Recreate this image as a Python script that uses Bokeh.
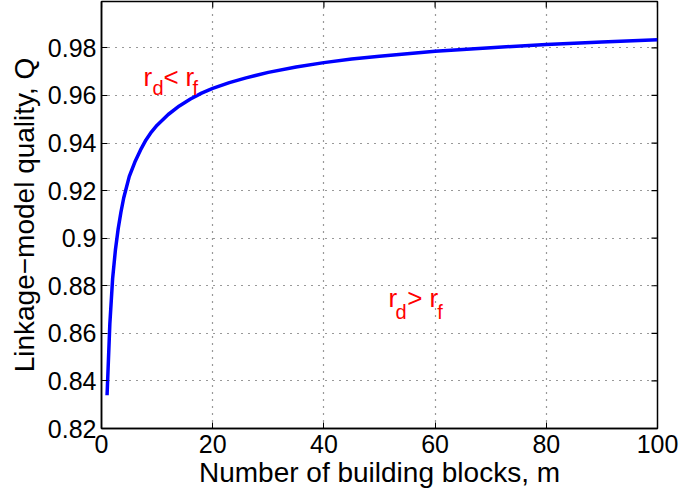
import math
from bokeh.plotting import figure
from bokeh.models import FixedTicker, Range1d, ColumnDataSource
from bokeh.core.properties import value
from bokeh.embed import file_html
from bokeh.resources import INLINE

# data
m_vals = [1, 1.5, 2, 2.5, 3, 3.5, 4, 5, 6, 7, 8, 9, 10, 12, 14, 16, 18, 20, 23, 26,
          30, 35, 40, 45, 50, 60, 70, 80, 90, 100]
q_vals = [0.834, 0.864, 0.883, 0.895, 0.904, 0.911, 0.917, 0.926, 0.932, 0.937, 0.9413,
          0.9447, 0.9475, 0.952, 0.9556, 0.9585, 0.961, 0.963, 0.9654, 0.9674, 0.9697,
          0.972, 0.9738, 0.9753, 0.9765, 0.9786, 0.9801, 0.9814, 0.9825, 0.9834]
x_ticks = [0, 20, 40, 60, 80, 100]
y_ticks = [0.82, 0.84, 0.86, 0.88, 0.90, 0.92, 0.94, 0.96, 0.98]
y_tick_labels = ["0.82", "0.84", "0.86", "0.88", "0.9", "0.92", "0.94", "0.96", "0.98"]

# annotation pieces: main text and subscripts
lab_main_x = [7.55, 11.15, 15.1, 51.6, 55.0, 59.0]
lab_main_y = [0.9678, 0.9678, 0.9678, 0.8747, 0.8747, 0.8747]
lab_main_t = ["r", "<", "r", "r", ">", "r"]
lab_sub_x = [9.17, 16.37, 52.9, 60.4]
lab_sub_y = [0.9632, 0.9632, 0.8688, 0.8688]
lab_sub_t = ["d", "f", "d", "f"]

FONT = "Liberation Sans"
X0, X1 = 0, 100
Y0, Y1 = 0.82, 0.9995

p = figure(width=680, height=498, output_backend="svg", toolbar_location=None,
           x_range=Range1d(X0, X1), y_range=Range1d(Y0, Y1),
           min_border_left=101, min_border_right=23, min_border_top=1, min_border_bottom=70)
p.outline_line_color = "black"
p.outline_line_width = 1.5
p.background_fill_color = "white"
p.border_fill_color = "white"

p.xgrid.ticker = FixedTicker(ticks=x_ticks)
p.ygrid.ticker = FixedTicker(ticks=y_ticks)
for g in (p.xgrid[0], p.ygrid[0]):
    g.grid_line_color = "#333333"
    g.grid_line_dash = "1 6"
    g.grid_line_width = 1.2

# inward tick marks on the top and right edges of the box
p.scatter(x=x_ticks, y=[Y1] * len(x_ticks), marker="dash", size=12, angle=math.pi / 2,
          line_color="black", line_width=1.2)
p.scatter(x=[X1] * len(y_ticks), y=y_ticks, marker="dash", size=12,
          line_color="black", line_width=1.2)

p.line(m_vals, q_vals, line_color="#0000ff", line_width=3.5)

src_main = ColumnDataSource(dict(x=lab_main_x, y=lab_main_y, t=lab_main_t))
src_sub = ColumnDataSource(dict(x=lab_sub_x, y=lab_sub_y, t=lab_sub_t))
p.text(x="x", y="y", text="t", source=src_main, text_color="red",
       text_font=value(FONT), text_font_size="26px", text_baseline="alphabetic")
p.text(x="x", y="y", text="t", source=src_sub, text_color="red",
       text_font=value(FONT), text_font_size="20px", text_baseline="alphabetic")

for ax in p.xaxis + p.yaxis:
    ax.major_tick_in = 6
    ax.major_tick_out = 0
    ax.minor_tick_in = 0
    ax.minor_tick_out = 0
    ax.axis_line_width = 1.5
    ax.major_label_text_font = FONT
    ax.major_label_text_font_size = "25px"
    ax.major_label_text_color = "black"
    ax.axis_label_text_font = FONT
    ax.axis_label_text_font_size = "28px"
    ax.axis_label_text_font_style = "normal"
    ax.axis_label_text_color = "black"

bx = p.xaxis[0]
ly = p.yaxis[0]
bx.ticker = FixedTicker(ticks=x_ticks)
ly.ticker = FixedTicker(ticks=y_ticks)
ly.major_label_overrides = {t: l for t, l in zip(y_ticks, y_tick_labels)}
bx.axis_label = "Number of building blocks, m"
ly.axis_label = "Linkage\u2212model quality, Q"
bx.axis_label_standoff = 1
ly.axis_label_standoff = 5
bx.major_label_standoff = 6
ly.major_label_standoff = 5

out = open("out.html", "w")
out.write(file_html(p, INLINE))
out.close()
